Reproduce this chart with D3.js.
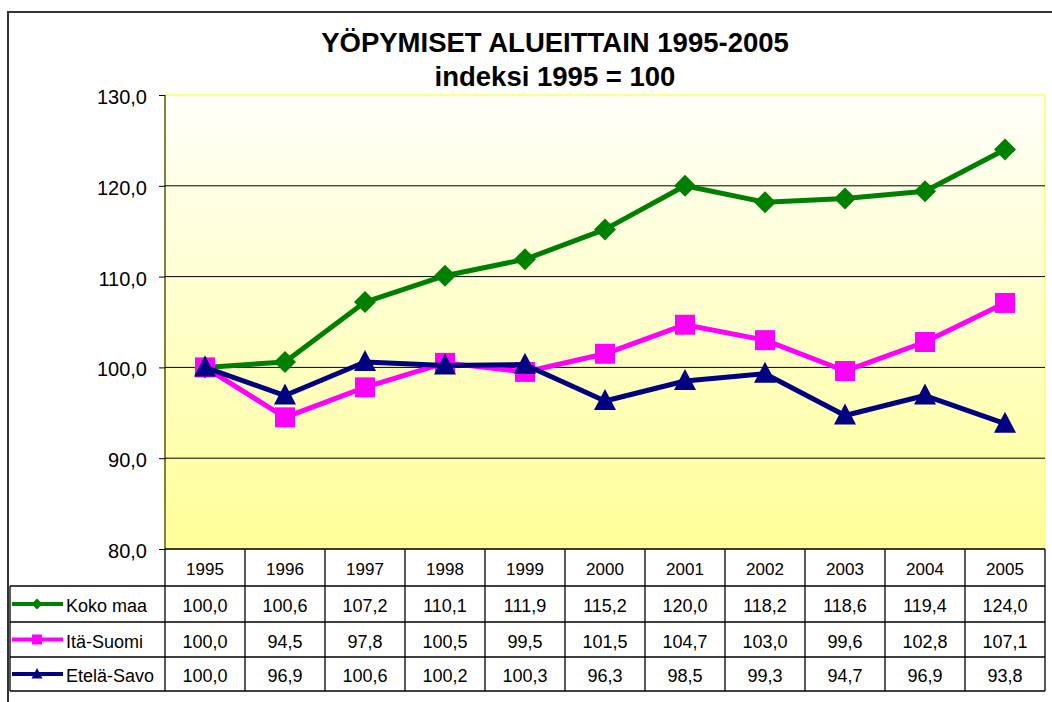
<!DOCTYPE html>
<html>
<head>
<meta charset="utf-8">
<script src="https://cdn.jsdelivr.net/npm/d3@7"></script>
<style>
  body { margin: 0; background: #fff; }
  text { font-family: "Liberation Sans", Arial, sans-serif; }
</style>
</head>
<body>
<div id="chart"></div>
<script>
let years = ["1995", "1996", "1997", "1998", "1999", "2000", "2001", "2002", "2003", "2004", "2005"];
let kokoMaa = [100.0, 100.6, 107.2, 110.1, 111.9, 115.2, 120.0, 118.2, 118.6, 119.4, 124.0];
let itaSuomi = [100.0, 94.5, 97.8, 100.5, 99.5, 101.5, 104.7, 103.0, 99.6, 102.8, 107.1];
let etelaSavo = [100.0, 96.9, 100.6, 100.2, 100.3, 96.3, 98.5, 99.3, 94.7, 96.9, 93.8];
let yTicks = [80, 90, 100, 110, 120, 130];

let series = [
    {name: "Koko maa", values: kokoMaa, color: "#008000", marker: "diamond"},
    {name: "Itä-Suomi", values: itaSuomi, color: "#FF00FF", marker: "square"},
    {name: "Etelä-Savo", values: etelaSavo, color: "#000080", marker: "triangle"}
];

let width = 1052, height = 702;
let plotLeft = 165, plotRight = 1045, plotTop = 95, plotBottom = 549;
let rowH = [549, 586, 622, 657, 691];

let svg = d3.select("#chart").append("svg")
    .attr("width", width)
    .attr("height", height);

// outer frame
svg.append("path")
    .attr("d", `M8,${height} L8,12 L${width},12`)
    .attr("fill", "none")
    .attr("stroke", "#333")
    .attr("stroke-width", 2);

// title
svg.append("text")
    .attr("x", 555).attr("y", 52)
    .attr("text-anchor", "middle")
    .attr("font-size", 27.5).attr("font-weight", "bold")
    .text("YÖPYMISET ALUEITTAIN 1995-2005");
svg.append("text")
    .attr("x", 555).attr("y", 86)
    .attr("text-anchor", "middle")
    .attr("font-size", 27.5).attr("font-weight", "bold")
    .text("indeksi 1995 = 100");

let x = d3.scaleBand().domain(years).range([plotLeft, plotRight]);
let y = d3.scaleLinear().domain([80, 130]).range([plotBottom, plotTop]);

// background gradient
let grad = svg.append("defs").append("linearGradient")
    .attr("id", "bg").attr("x1", 0).attr("y1", 0).attr("x2", 0).attr("y2", 1);
grad.append("stop").attr("offset", "0%").attr("stop-color", "#FFFFFA");
grad.append("stop").attr("offset", "100%").attr("stop-color", "#FFFF99");

svg.append("rect")
    .attr("x", plotLeft).attr("y", plotTop)
    .attr("width", plotRight - plotLeft).attr("height", plotBottom - plotTop)
    .attr("fill", "url(#bg)")
    .attr("stroke", "#FFFF80")
    .attr("stroke-width", 2);

// gridlines
svg.selectAll(".grid")
    .data(yTicks.filter(d => d > 80 && d < 130))
    .join("line")
    .attr("x1", plotLeft).attr("x2", plotRight)
    .attr("y1", d => y(d)).attr("y2", d => y(d))
    .attr("stroke", "#000").attr("stroke-width", 1);

let fmt = v => d3.format(".1f")(v).replace(".", ",");

// y axis
let yAxis = svg.append("g")
    .attr("transform", `translate(${plotLeft},0)`)
    .call(d3.axisLeft(y).tickValues(yTicks).tickSize(6).tickPadding(12).tickFormat(fmt));
yAxis.select(".domain").attr("stroke", "#000").attr("d", `M0,${plotTop}V${plotBottom}`);
yAxis.selectAll("text")
    .attr("font-size", 20)
    .attr("font-family", "Liberation Sans, Arial, sans-serif")
    .attr("fill", "#000")
    .attr("dy", "0.42em");

let line = d3.line()
    .x((d, i) => x(years[i]) + x.bandwidth() / 2)
    .y(d => y(d));

function markerPath(type) {
    if (type === "diamond") return "M0,-11L11,0L0,11L-11,0Z";
    if (type === "square") return "M-10,-10H10V10H-10Z";
    return "M0,-12L11,9H-11Z";
}

series.forEach(s => {
    let g = svg.append("g");
    g.append("path")
        .datum(s.values)
        .attr("d", line)
        .attr("fill", "none")
        .attr("stroke", s.color)
        .attr("stroke-width", 5)
        .attr("stroke-linejoin", "round");
    g.selectAll(".m")
        .data(s.values)
        .join("path")
        .attr("transform", (d, i) => `translate(${x(years[i]) + x.bandwidth() / 2},${y(d)})`)
        .attr("d", markerPath(s.marker))
        .attr("fill", s.color);
});

// data table
let tbl = svg.append("g").attr("stroke", "#000").attr("stroke-width", 1.3);
let colEdges = years.map(yr => x(yr)).concat([plotRight]);
tbl.selectAll(".vl")
    .data(colEdges)
    .join("line")
    .attr("x1", d => d).attr("x2", d => d)
    .attr("y1", rowH[0]).attr("y2", rowH[4]);
tbl.append("line").attr("x1", 10).attr("x2", 10).attr("y1", rowH[1]).attr("y2", rowH[4]);
tbl.selectAll(".hl")
    .data(rowH.slice(1))
    .join("line")
    .attr("x1", 10).attr("x2", plotRight)
    .attr("y1", d => d).attr("y2", d => d);
tbl.append("line").attr("x1", plotLeft).attr("x2", plotRight).attr("y1", rowH[0]).attr("y2", rowH[0]);

// header years
svg.selectAll(".yr")
    .data(years)
    .join("text")
    .attr("x", d => x(d) + x.bandwidth() / 2)
    .attr("y", (rowH[0] + rowH[1]) / 2 + 7.5)
    .attr("text-anchor", "middle")
    .attr("font-size", 17)
    .text(d => d);

series.forEach((s, r) => {
    let cy = (rowH[r + 1] + rowH[r + 2]) / 2;
    svg.selectAll(".v" + r)
        .data(s.values)
        .join("text")
        .attr("x", (d, i) => x(years[i]) + x.bandwidth() / 2)
        .attr("y", cy + 8)
        .attr("text-anchor", "middle")
        .attr("font-size", 18)
        .text(d => fmt(d));
    // legend key
    svg.append("line")
        .attr("x1", 12).attr("x2", 63)
        .attr("y1", cy).attr("y2", cy)
        .attr("stroke", s.color).attr("stroke-width", 4);
    svg.append("path")
        .attr("transform", `translate(37,${cy}) scale(0.5)`)
        .attr("d", markerPath(s.marker))
        .attr("fill", s.color);
    svg.append("text")
        .attr("x", 66).attr("y", cy + 8)
        .attr("font-size", 18)
        .text(s.name);
});
</script>
</body>
</html>
